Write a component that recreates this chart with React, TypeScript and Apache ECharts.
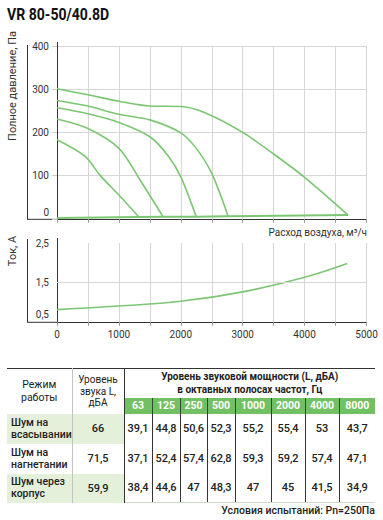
import React, { useEffect, useRef } from 'react';
import * as echarts from 'echarts';

// ---------- data ----------
const flowTicks = [0, 1000, 2000, 3000, 4000, 5000];
const pressureTicks = [0, 100, 200, 300, 400];
const currentTicks = [0.5, 1.5, 2.5];

const curve1 = [[0, 301], [500, 287], [1000, 272], [1500, 261], [2000, 260], [2400, 245], [3000, 200], [3500, 150], [4000, 96], [4700, 9]];
const curve2 = [[0, 274], [500, 261], [1000, 242], [1500, 229], [2000, 199], [2250, 163], [2500, 105], [2764, 6]];
const curve3 = [[0, 257], [500, 243], [1000, 223], [1500, 190], [1800, 145], [2000, 97], [2248, 5]];
const curve4 = [[0, 231], [500, 209], [1000, 163], [1350, 88], [1716, 4]];
const curve5 = [[0, 183], [450, 145], [700, 100], [1000, 55], [1323, 4]];
const baseLine = [[0, 2], [1323, 4], [1716, 4.5], [2248, 5], [2764, 6], [4700, 9]];
const current = [[0, 0.81], [1000, 0.9], [2000, 1.02], [3000, 1.26], [4000, 1.63], [4690, 1.98]];

const modes = [['Шум на', 'всасывании'], ['Шум на', 'нагнетании'], ['Шум через', 'корпус']];
const totalLevel = ['66', '71,5', '59,9'];
const freqs = ['63', '125', '250', '500', '1000', '2000', '4000', '8000'];
const levels = [
  ['39,1', '44,8', '50,6', '52,3', '55,2', '55,4', '53', '43,7'],
  ['37,1', '52,4', '57,4', '62,8', '59,3', '59,2', '57,4', '47,1'],
  ['38,4', '44,6', '47', '48,3', '47', '45', '41,5', '34,9'],
];

// ---------- styles ----------
const GREEN = '#7cc673';
const GRID = '#d6d6d6';
const AXIS = '#333';
const FONT = 'Roboto, "Noto Sans", sans-serif';
const freqColWidths = [28, 28, 27, 28, 36, 34, 34, 36];

const App: React.FC = () => {
  const ref = useRef<HTMLDivElement>(null);

  useEffect(() => {
    if (!ref.current) return;
    const chart = echarts.init(ref.current, undefined, { renderer: 'svg' });
    const labelStyle = { color: '#333', fontSize: 10, fontFamily: FONT };
    const lineSeries = (data: number[][]) => ({
      type: 'line', xAxisIndex: 0, yAxisIndex: 0, data, smooth: 0.3,
      symbol: 'none', showSymbol: false, lineStyle: { color: GREEN, width: 1.6 }, silent: true,
    });
    const option: any = {
      animation: false,
      grid: [
        { left: 57, top: 46, width: 309.5, height: 172.8 },
        { left: 57, top: 243, width: 309.5, height: 78.8 },
      ],
      xAxis: [
        {
          gridIndex: 0, type: 'value', min: 0, max: 5000, interval: 500,
          axisLine: { show: true, onZero: false, lineStyle: { color: AXIS, width: 1 } },
          axisTick: { show: true, length: 4, lineStyle: { color: '#999' } },
          axisLabel: { show: false },
          splitLine: { show: true, lineStyle: { color: GRID, width: 1 } },
        },
        {
          gridIndex: 1, type: 'value', min: 0, max: 5000, interval: 500,
          axisLine: { show: true, onZero: false, lineStyle: { color: AXIS, width: 1 } },
          axisTick: { show: true, length: 4, lineStyle: { color: '#999' } },
          axisLabel: { ...labelStyle, margin: 8, formatter: (v: number) => (flowTicks.includes(v) ? String(v) : '') },
          splitLine: { show: true, lineStyle: { color: GRID, width: 1 } },
        },
      ],
      yAxis: [
        {
          gridIndex: 0, type: 'value', min: 0, max: 400, interval: 100,
          axisLine: { show: true, onZero: false, lineStyle: { color: AXIS, width: 1 } },
          axisTick: { show: true, length: 5, lineStyle: { color: '#ccc' } },
          axisLabel: {
            ...labelStyle, margin: 8,
            formatter: (v: number) => (pressureTicks.includes(v) ? (v === 0 ? '{z|0}' : String(v)) : ''),
            rich: { z: { ...labelStyle, padding: [0, 0, 12, 0] } },
          },
          splitLine: { show: true, lineStyle: { color: GRID, width: 1 } },
        },
        {
          gridIndex: 1, type: 'value', min: 0.5, max: 2.5, interval: 0.5,
          axisLine: { show: true, onZero: false, lineStyle: { color: AXIS, width: 1 } },
          axisTick: { show: false },
          axisLabel: {
            ...labelStyle, margin: 8,
            formatter: (v: number) => {
              if (!currentTicks.some((t) => Math.abs(t - v) < 1e-6)) return '';
              const s = String(v).replace('.', ',');
              return Math.abs(v - currentTicks[0]) < 1e-6 ? '{z|' + s + '}' : s;
            },
            rich: { z: { ...labelStyle, padding: [0, 0, 14, 0] } },
          },
          splitLine: { show: false },
        },
      ],
      series: [
        lineSeries(curve1), lineSeries(curve2), lineSeries(curve3), lineSeries(curve4), lineSeries(curve5),
        { ...lineSeries(baseLine), smooth: false, lineStyle: { color: GREEN, width: 2 } },
        {
          type: 'line', xAxisIndex: 1, yAxisIndex: 1, data: current, smooth: 0.4,
          symbol: 'none', showSymbol: false, lineStyle: { color: GREEN, width: 1.6 }, silent: true,
          markLine: {
            silent: true, symbol: 'none', label: { show: false },
            lineStyle: { color: GRID, type: 'solid', width: 1 },
            data: [{ yAxis: 1.5 }],
          },
          z: 3,
        },
      ],
      graphic: [
        { type: 'text', x: 7, y: 15, scaleX: 0.88, style: { text: 'VR 80-50/40.8D', font: 'bold 16px ' + FONT, fill: '#111', verticalAlign: 'middle' } },
        { type: 'text', x: 12, y: 86, rotation: Math.PI / 2, style: { text: 'Полное давление, Па', font: '11px ' + FONT, fill: '#333', align: 'center', verticalAlign: 'middle' } },
        { type: 'text', x: 12, y: 251, rotation: Math.PI / 2, style: { text: 'Ток, А', font: '11px ' + FONT, fill: '#333', align: 'center', verticalAlign: 'middle' } },
        { type: 'text', x: 367, y: 232, style: { text: 'Расход воздуха, м³/ч', font: '10px ' + FONT, fill: '#333', align: 'right', verticalAlign: 'middle' } },
        { type: 'line', shape: { x1: 27.5, y1: 45, x2: 27.5, y2: 219 }, style: { stroke: AXIS, lineWidth: 1 } },
        { type: 'line', shape: { x1: 27, y1: 219.3, x2: 57, y2: 219.3 }, style: { stroke: AXIS, lineWidth: 1 } },
        { type: 'line', shape: { x1: 57.5, y1: 42, x2: 57.5, y2: 46 }, style: { stroke: AXIS, lineWidth: 1 } },
        { type: 'line', shape: { x1: 27.5, y1: 239, x2: 27.5, y2: 322 }, style: { stroke: AXIS, lineWidth: 1 } },
        { type: 'line', shape: { x1: 27, y1: 322.3, x2: 57, y2: 322.3 }, style: { stroke: AXIS, lineWidth: 1 } },
        { type: 'line', shape: { x1: 57.5, y1: 238, x2: 57.5, y2: 243 }, style: { stroke: AXIS, lineWidth: 1 } },
      ],
    };
    chart.setOption(option);
    return () => chart.dispose();
  }, []);

  const cellBase: React.CSSProperties = { padding: 0, verticalAlign: 'middle', textAlign: 'center' };
  const darkV = '1px solid #333';
  const lightV = '1px solid #c4c4c4';
  const rowBg = ['#e4f0da', '#ffffff', '#e4f0da'];

  return (
    <div style={{ position: 'absolute', left: 0, top: 0, width: 383, height: 520, background: '#fff', fontFamily: FONT, color: '#222' }}>
      <div ref={ref} style={{ position: 'absolute', left: 0, top: 0, width: 383, height: 345 }} />
      <table style={{ position: 'absolute', left: 7, top: 368, width: 368, borderCollapse: 'collapse', tableLayout: 'fixed', borderTop: '1px solid #333' }}>
        <colgroup>
          <col style={{ width: 65 }} />
          <col style={{ width: 52 }} />
          {freqColWidths.map((w, i) => <col key={i} style={{ width: w }} />)}
        </colgroup>
        <tbody>
          <tr style={{ height: 29 }}>
            <td rowSpan={2} style={{ ...cellBase, borderRight: lightV, fontSize: 10.5, lineHeight: '13px' }}>Режим<br />работы</td>
            <td rowSpan={2} style={{ ...cellBase, borderRight: darkV, fontSize: 10, lineHeight: '11.5px' }}>Уровень<br />звука L,<br />дБА</td>
            <td colSpan={8} style={{ ...cellBase, fontSize: 10, fontWeight: 'bold', lineHeight: '13px' }}>Уровень звуковой мощности (L, дБА)<br />в октавных полосах частот, Гц</td>
          </tr>
          <tr style={{ height: 16 }}>
            {freqs.map((f, i) => (
              <td key={f} style={{ ...cellBase, background: '#72c064', color: '#fff', fontWeight: 'bold', fontSize: 10.5, borderLeft: i === 0 ? darkV : '1px solid #2f4a2a' }}>{f}</td>
            ))}
          </tr>
          {levels.map((row, r) => (
            <tr key={r} style={{ height: r === 2 ? 29 : 30 }}>
              <td style={{ ...cellBase, textAlign: 'left', paddingLeft: 4, background: rowBg[r], borderRight: lightV, fontSize: 10.5, fontWeight: 500, lineHeight: '12px' }}>{modes[r][0]}<br />{modes[r][1]}</td>
              <td style={{ ...cellBase, background: rowBg[r], borderRight: darkV, fontSize: 11, fontWeight: 500 }}>{totalLevel[r]}</td>
              {row.map((v, i) => (
                <td key={i} style={{ ...cellBase, borderLeft: darkV, fontSize: 11, fontWeight: 500, borderBottom: r === 2 ? '1px solid #cfd8c8' : 'none' }}>{v}</td>
              ))}
            </tr>
          ))}
        </tbody>
      </table>
      <div style={{ position: 'absolute', right: 8, top: 504, fontSize: 10.5, fontWeight: 500, color: '#222', whiteSpace: 'nowrap' }}>Условия испытаний: Рn=250Па</div>
    </div>
  );
};

export default App;
